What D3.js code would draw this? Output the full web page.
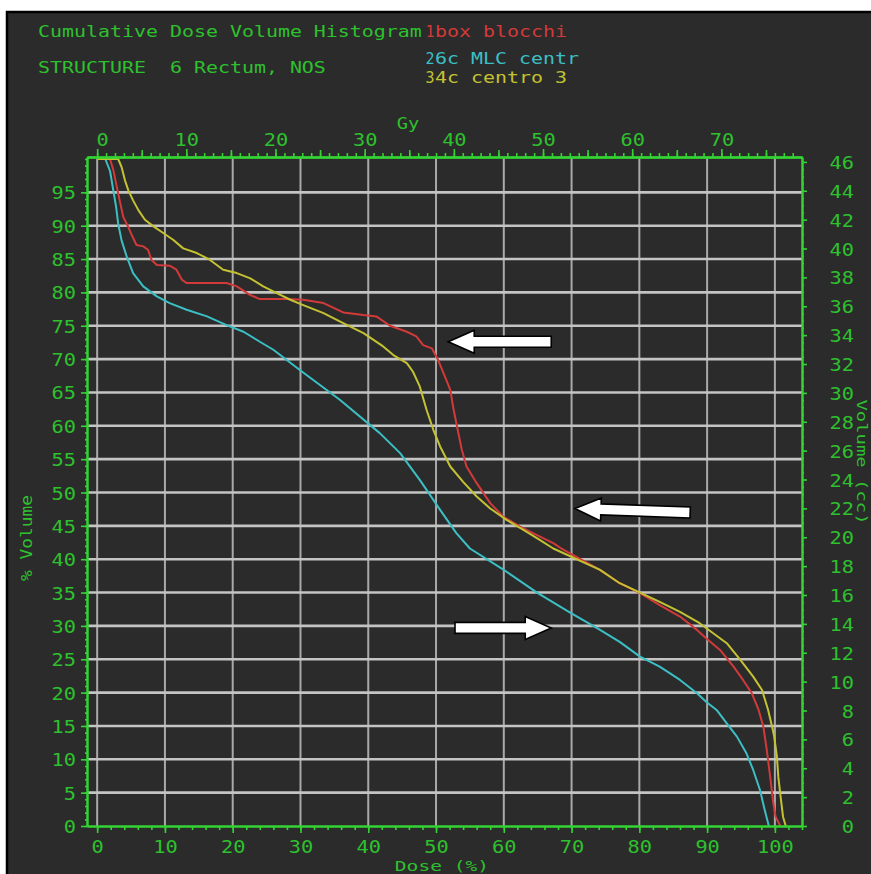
<!DOCTYPE html>
<html>
<head>
<meta charset="utf-8">
<script src="https://cdn.jsdelivr.net/npm/d3@7"></script>
<style>
  html, body { margin: 0; padding: 0; background: #ffffff; }
  svg text { white-space: pre; }
</style>
</head>
<body>
<svg id="chart" width="871" height="874"></svg>
<script>
// ---------------- DATA ----------------
const seriesNames = ["box blocchi", "6c MLC centr", "4c centro 3"];
const seriesIndex = ["1", "2", "3"];

const doseTicks = [0, 10, 20, 30, 40, 50, 60, 70, 80, 90, 100];
const volumeTicks = [0, 5, 10, 15, 20, 25, 30, 35, 40, 45, 50, 55, 60, 65, 70, 75, 80, 85, 90, 95];
const gyTicks = [0, 10, 20, 30, 40, 50, 60, 70];
const ccTicks = [0, 2, 4, 6, 8, 10, 12, 14, 16, 18, 20, 22, 24, 26, 28, 30, 32, 34, 36, 38, 40, 42, 44, 46];

const prescriptionGy = 76;    // 100 % dose
const structureCc = 46.2;     // 100 % volume

// series 1: box blocchi (red)
const redDose = [0,1.9,2.4,2.9,3.4,3.85,4.6,5.1,5.8,6.8,7.5,8.0,8.8,10.7,11.7,12.5,13.2,19.1,20.6,22.6,24.0,28.0,30.4,33.4,36.3,39.3,41.2,43.2,45.7,47.1,48.1,49.4,50.3,51.3,52.1,52.6,53.1,53.8,54.5,56.0,58.0,59.9,62.4,64.9,67.3,68.5,74.2,77.1,80.1,83.0,86.0,88.5,89.9,91.9,93.9,95.3,96.6,97.6,98.3,98.8,99.3,99.7,100.1,100.8];
const redVol  = [100,100,98.3,95.8,93.4,91.3,89.8,88.6,87.1,86.9,86.4,84.9,84.1,84.0,83.4,81.9,81.4,81.4,80.9,79.6,79.0,79.0,78.9,78.4,77.0,76.6,76.4,75.0,74.1,73.4,72.1,71.6,69.9,67.4,65.4,62.4,59.9,56.4,53.9,51.4,48.4,46.4,44.9,43.6,42.4,41.6,38.4,36.4,34.9,33.1,31.4,29.4,28.1,26.4,23.9,21.9,19.9,17.4,14.9,11.4,7.4,3.9,1.4,0];

// series 2: 6c MLC centr (cyan)
const cyanDose = [0,1.2,1.9,2.4,2.8,3.1,3.6,4.35,5.3,6.8,8.8,10.7,13.2,16.2,19.1,21.6,24.0,26.0,30.0,35.8,41.7,44.7,47.6,50.6,53.0,55.0,60.0,64.9,69.6,74.2,77.1,80.1,83.0,86.0,88.5,89.9,91.4,92.9,94.4,95.8,96.8,97.8,98.5,99.0,99.1];
const cyanVol  = [100,100,98.2,95.2,92.8,90.3,87.8,85.4,82.9,80.9,79.4,78.4,77.4,76.4,75.1,74.1,72.6,71.4,68.3,63.9,58.9,55.9,51.9,47.4,43.9,41.6,38.4,35.0,32.1,29.4,27.6,25.4,23.9,21.9,19.9,18.6,17.4,15.4,13.4,10.9,8.4,5.4,2.4,0.4,0];

// series 3: 4c centro 3 (yellow)
const yellowDose = [0,3.1,3.6,4.1,4.6,5.3,6.1,7.05,8.3,9.75,11.2,12.7,14.7,16.6,18.6,20.6,22.6,24.5,26.5,28.5,30.4,33.4,36.3,39.3,42.2,43.7,45.7,46.6,47.6,48.6,49.6,50.6,52.1,54.0,56.0,58.0,60.4,62.9,65.3,67.3,74.2,77.1,80.1,83.0,86.0,88.9,90.9,92.9,94.9,96.8,98.1,99.0,99.7,99.9,100.3,100.5,100.9,101.2,101.6];
const yellowVol  = [100,100,98.8,96.8,95.3,93.8,92.3,90.9,89.9,88.9,87.9,86.6,85.9,84.9,83.4,82.9,82.1,80.9,79.9,78.9,78.1,76.9,75.4,73.9,71.9,70.6,69.4,68.1,65.9,62.4,59.4,56.9,53.9,51.6,49.4,47.6,45.9,44.4,42.9,41.6,38.4,36.4,35.0,33.6,32.1,30.4,28.9,27.4,24.9,22.4,20.4,17.4,14.4,13.4,10.4,7.4,3.9,1.4,0];

// annotation arrows (dose %, volume %)
const arrowTipDose  = [51.8, 70.5, 67.0];
const arrowTipVol   = [72.6, 47.6, 29.7];
const arrowTailDose = [67.0, 87.5, 52.8];
const arrowTailVol  = [72.6, 47.0, 29.7];

// ---------------- STYLE ----------------
const FONT = "'DejaVu Sans Mono', 'Liberation Mono', monospace";
const GREEN = "#2ec12e";
const AXIS_GREEN = "#33d433";
const BG = "#2b2b2b";
const COLORS = ["#d23a3a", "#3cbfc4", "#c4c232"];
const TICK_SX = 1.13;

const svg = d3.select("#chart");

// frame
svg.append("rect").attr("x", 0).attr("y", 0).attr("width", 871).attr("height", 874).attr("fill", "#ffffff");
svg.append("rect").attr("x", 7).attr("y", 12).attr("width", 880).attr("height", 880)
  .attr("fill", BG).attr("stroke", "#000").attr("stroke-width", 2.5);

// scales
const xS = d3.scaleLinear().domain([-1.5, 104]).range([87, 802]);
const yS = d3.scaleLinear().domain([0, 100.3]).range([826, 157]);
const gyS = d3.scaleLinear().domain(xS.domain().map(d => d * prescriptionGy / 100)).range(xS.range());
const ccS = d3.scaleLinear().domain(yS.domain().map(d => d * structureCc / 100)).range(yS.range());

// gridlines
const grid = svg.append("g");
grid.selectAll("line.v").data(doseTicks).join("line").attr("class", "v")
  .attr("x1", d => xS(d)).attr("x2", d => xS(d))
  .attr("y1", yS(100.3)).attr("y2", yS(0))
  .attr("stroke", "#a9a9a9").attr("stroke-width", 2);
grid.selectAll("line.h").data(volumeTicks.filter(v => v > 0)).join("line").attr("class", "h")
  .attr("x1", xS(-1.5)).attr("x2", xS(104))
  .attr("y1", d => yS(d)).attr("y2", d => yS(d))
  .attr("stroke", "#c4c4c4").attr("stroke-width", 2.6);

// curves
const lineGen = d3.line().x(d => xS(d[0])).y(d => yS(d[1]));
const series = [
  d3.zip(redDose, redVol),
  d3.zip(cyanDose, cyanVol),
  d3.zip(yellowDose, yellowVol)
];
const curves = svg.append("g");
curves.selectAll("path").data(series).join("path")
  .attr("d", lineGen).attr("fill", "none")
  .attr("stroke", (d, i) => COLORS[i]).attr("stroke-width", 2)
  .attr("stroke-linejoin", "round");

// axes helper
function styleAxis(g) {
  g.selectAll("path.domain").attr("stroke", AXIS_GREEN).attr("stroke-width", 2);
  g.selectAll(".tick line").attr("stroke", AXIS_GREEN).attr("stroke-width", 1.6);
  g.selectAll("text").attr("fill", GREEN).attr("font-family", FONT).attr("font-size", 18);
}
function widenTicks(g, tx, ty, anchor) {
  g.selectAll("text").each(function () {
    d3.select(this).attr("text-anchor", anchor).attr("x", tx / TICK_SX).attr("y", ty)
      .attr("dy", 0).attr("transform", `scale(${TICK_SX},1)`);
  });
}
const stepRange = (a, b, s) => d3.range(a, b + s / 2, s);

// bottom axis (Dose %)
svg.append("g").attr("transform", `translate(0,${yS(0)})`)
  .call(d3.axisBottom(xS).tickValues(stepRange(0, 104, 2)).tickSize(4).tickFormat("").tickSizeOuter(0))
  .call(styleAxis);
const axBottom = svg.append("g").attr("transform", `translate(0,${yS(0)})`)
  .call(d3.axisBottom(xS).tickValues(doseTicks).tickSize(7).tickSizeOuter(0))
  .call(styleAxis);
widenTicks(axBottom, 0, 27, "middle");

// top axis (Gy)
svg.append("g").attr("transform", `translate(0,${yS(100.3)})`)
  .call(d3.axisTop(gyS).tickValues(stepRange(0, 78, 1)).tickSize(4).tickFormat("").tickSizeOuter(0))
  .call(styleAxis);
svg.append("g").attr("transform", `translate(0,${yS(100.3)})`)
  .call(d3.axisTop(gyS).tickValues(stepRange(5, 75, 10)).tickSize(7).tickFormat("").tickSizeOuter(0))
  .call(styleAxis);
const axTop = svg.append("g").attr("transform", `translate(0,${yS(100.3)})`)
  .call(d3.axisTop(gyS).tickValues(gyTicks).tickSize(8).tickSizeOuter(0))
  .call(styleAxis);
widenTicks(axTop, 0, -11, "middle");
axTop.selectAll("text").filter(d => d === 0).attr("x", 5 / TICK_SX);

// left axis (% Volume)
svg.append("g").attr("transform", `translate(${xS(-1.5)},0)`)
  .call(d3.axisLeft(yS).tickValues(stepRange(0, 100, 1)).tickSize(2).tickFormat("").tickSizeOuter(0))
  .call(styleAxis);
const axLeft = svg.append("g").attr("transform", `translate(${xS(-1.5)},0)`)
  .call(d3.axisLeft(yS).tickValues(volumeTicks).tickSize(6).tickSizeOuter(0))
  .call(styleAxis);
widenTicks(axLeft, -11, 6.5, "end");

// right axis (Volume cc)
svg.append("g").attr("transform", `translate(${xS(104)},0)`)
  .call(d3.axisRight(ccS).tickValues(stepRange(0, 46, 0.5)).tickSize(2).tickFormat("").tickSizeOuter(0))
  .call(styleAxis);
const axRight = svg.append("g").attr("transform", `translate(${xS(104)},0)`)
  .call(d3.axisRight(ccS).tickValues(ccTicks).tickSize(5).tickSizeOuter(0))
  .call(styleAxis);
widenTicks(axRight, 52, 6.5, "end");

// titles (monospace text stretched horizontally like the original bitmap font)
function label(txt, px, py, color, opts = {}) {
  const sx = opts.sx || 1.33;
  const t = svg.append("text").attr("x", 0).attr("y", 0).text(txt)
    .attr("fill", color).attr("font-family", FONT)
    .attr("font-size", opts.size || 15)
    .attr("transform", `translate(${px},${py}) rotate(${opts.rotate || 0}) scale(${sx},1)`);
  if (opts.anchor) t.attr("text-anchor", opts.anchor);
  return t;
}
label("Cumulative Dose Volume Histogram", 38, 37, GREEN);
label("STRUCTURE  6 Rectum, NOS", 38, 72.5, GREEN);
const legendY = [37, 63.5, 83];
seriesNames.forEach((n, i) => {
  label(seriesIndex[i], 425.5, legendY[i], COLORS[i], { sx: 1.0, size: 15 });
  label(n, 435, legendY[i], COLORS[i]);
});
label("Gy", 408, 129, GREEN, { anchor: "middle", sx: 1.25 });
label("Dose (%)", 442, 871, GREEN, { anchor: "middle", size: 14, sx: 1.4 });
label("% Volume", 32, 538, GREEN, { anchor: "middle", rotate: -90, sx: 1.19 });
label("Volume (cc)", 857, 462, GREEN, { anchor: "middle", rotate: 90, size: 14, sx: 1.35 });

// arrows
const arrows = svg.append("g");
arrowTipDose.forEach((d, i) => {
  const x1 = xS(d), y1 = yS(arrowTipVol[i]);
  const x2 = xS(arrowTailDose[i]), y2 = yS(arrowTailVol[i]);
  const len = Math.hypot(x2 - x1, y2 - y1);
  const ang = Math.atan2(y2 - y1, x2 - x1) * 180 / Math.PI;
  const hl = 26, hw = 11.5, bw = 5.5;
  const pts = [[0, 0], [hl, -hw], [hl, -bw], [len, -bw], [len, bw], [hl, bw], [hl, hw]];
  arrows.append("path")
    .attr("d", "M" + pts.map(p => p.join(",")).join("L") + "Z")
    .attr("transform", `translate(${x1},${y1}) rotate(${ang})`)
    .attr("fill", "#ffffff").attr("stroke", "#000").attr("stroke-width", 1.6)
    .attr("stroke-linejoin", "miter");
});
</script>
</body>
</html>
